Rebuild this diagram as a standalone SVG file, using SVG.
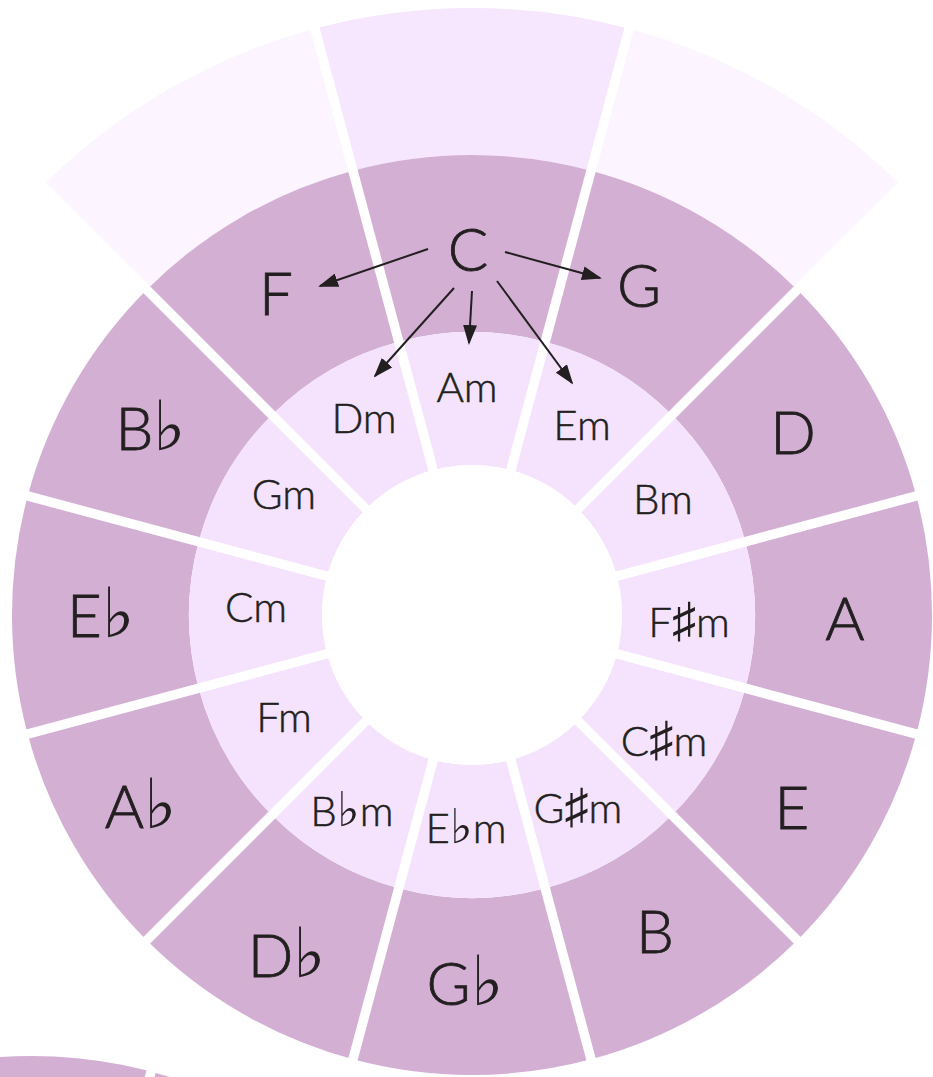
<svg xmlns="http://www.w3.org/2000/svg" width="933" height="1077" viewBox="0 0 933 1077">
<defs>
<style>
.maj{fill:#d2afd3}
.min{fill:#f5e3fd}
.fmid{fill:#f6e6fe}
.flt{fill:#fcf4fe}
.sep{stroke:#ffffff;stroke-width:9.5;stroke-linecap:butt}
.lbl{font-family:Lato,"DejaVu Sans",sans-serif;font-weight:300;fill:#231f20;stroke:#231f20;text-anchor:middle}
.big{font-size:60px;stroke-width:0.8}
.sm{font-size:42px;stroke-width:0.5}
.acc{font-family:"DejaVu Sans",sans-serif;font-size:1.15em;stroke-width:0}
.arr{stroke:#231f20;stroke-width:2;fill:none;marker-end:url(#ah)}
</style>
<marker id="ah" markerUnits="userSpaceOnUse" markerWidth="20" markerHeight="14" refX="18" refY="7" orient="auto" viewBox="0 0 20 14">
<path d="M0,0 L20,7 L0,14 Z" fill="#231f20"/>
</marker>
</defs>
<rect width="933" height="1077" fill="#ffffff"/>

<g id="partial-circle">
<circle cx="32" cy="1516" r="460" class="maj"/>
<line x1="32" y1="1516" x2="153.65" y2="1062.01" class="sep"/>
</g>

<g id="outer-ring">
<path class="flt" d="M42.79,185.79 A607,607 0 0 1 314.90,28.68 L352.94,170.67 A460,460 0 0 0 146.73,289.73 Z"/>
<path class="fmid" d="M314.90,28.68 A607,607 0 0 1 629.10,28.68 L591.06,170.67 A460,460 0 0 0 352.94,170.67 Z"/>
<path class="flt" d="M629.10,28.68 A607,607 0 0 1 901.21,185.79 L797.27,289.73 A460,460 0 0 0 591.06,170.67 Z"/>
</g>

<g id="node-C"><path class="maj" d="M352.94,170.67 A460,460 0 0 1 591.06,170.67 L545.25,341.64 A283,283 0 0 0 398.75,341.64 Z"/><text class="lbl big" x="468" y="271">C</text></g>
<g id="node-G"><path class="maj" d="M591.06,170.67 A460,460 0 0 1 797.27,289.73 L672.11,414.89 A283,283 0 0 0 545.25,341.64 Z"/><text class="lbl big" x="639" y="307">G</text></g>
<g id="node-D"><path class="maj" d="M797.27,289.73 A460,460 0 0 1 916.33,495.94 L745.36,541.75 A283,283 0 0 0 672.11,414.89 Z"/><text class="lbl big" x="793" y="454">D</text></g>
<g id="node-A"><path class="maj" d="M916.33,495.94 A460,460 0 0 1 916.33,734.06 L745.36,688.25 A283,283 0 0 0 745.36,541.75 Z"/><text class="lbl big" x="845" y="640">A</text></g>
<g id="node-E"><path class="maj" d="M916.33,734.06 A460,460 0 0 1 797.27,940.27 L672.11,815.11 A283,283 0 0 0 745.36,688.25 Z"/><text class="lbl big" x="792" y="829">E</text></g>
<g id="node-B"><path class="maj" d="M797.27,940.27 A460,460 0 0 1 591.06,1059.33 L545.25,888.36 A283,283 0 0 0 672.11,815.11 Z"/><text class="lbl big" x="655" y="953">B</text></g>
<g id="node-Gb"><path class="maj" d="M591.06,1059.33 A460,460 0 0 1 352.94,1059.33 L398.75,888.36 A283,283 0 0 0 545.25,888.36 Z"/><text class="lbl big" x="465" y="1005">G<tspan class="acc">♭</tspan></text></g>
<g id="node-Db"><path class="maj" d="M352.94,1059.33 A460,460 0 0 1 146.73,940.27 L271.89,815.11 A283,283 0 0 0 398.75,888.36 Z"/><text class="lbl big" x="287" y="977">D<tspan class="acc">♭</tspan></text></g>
<g id="node-Ab"><path class="maj" d="M146.73,940.27 A460,460 0 0 1 27.67,734.06 L198.64,688.25 A283,283 0 0 0 271.89,815.11 Z"/><text class="lbl big" x="141" y="828">A<tspan class="acc">♭</tspan></text></g>
<g id="node-Eb"><path class="maj" d="M27.67,734.06 A460,460 0 0 1 27.67,495.94 L198.64,541.75 A283,283 0 0 0 198.64,688.25 Z"/><text class="lbl big" x="101" y="637">E<tspan class="acc">♭</tspan></text></g>
<g id="node-Bb"><path class="maj" d="M27.67,495.94 A460,460 0 0 1 146.73,289.73 L271.89,414.89 A283,283 0 0 0 198.64,541.75 Z"/><text class="lbl big" x="151" y="450">B<tspan class="acc">♭</tspan></text></g>
<g id="node-F"><path class="maj" d="M146.73,289.73 A460,460 0 0 1 352.94,170.67 L398.75,341.64 A283,283 0 0 0 271.89,414.89 Z"/><text class="lbl big" x="276" y="315">F</text></g>

<g id="node-Am"><path class="min" d="M398.75,341.64 A283,283 0 0 1 545.25,341.64 L510.82,470.11 A150,150 0 0 0 433.18,470.11 Z"/><text class="lbl sm" x="467" y="402">Am</text></g>
<g id="node-Em"><path class="min" d="M545.25,341.64 A283,283 0 0 1 672.11,414.89 L578.07,508.93 A150,150 0 0 0 510.82,470.11 Z"/><text class="lbl sm" x="582" y="440">Em</text></g>
<g id="node-Bm"><path class="min" d="M672.11,414.89 A283,283 0 0 1 745.36,541.75 L616.89,576.18 A150,150 0 0 0 578.07,508.93 Z"/><text class="lbl sm" x="663" y="514">Bm</text></g>
<g id="node-Fsm"><path class="min" d="M745.36,541.75 A283,283 0 0 1 745.36,688.25 L616.89,653.82 A150,150 0 0 0 616.89,576.18 Z"/><text class="lbl sm" x="689" y="637">F<tspan class="acc">♯</tspan>m</text></g>
<g id="node-Csm"><path class="min" d="M745.36,688.25 A283,283 0 0 1 672.11,815.11 L578.07,720.93 A150,150 0 0 0 616.89,653.82 Z"/><text class="lbl sm" x="664" y="756">C<tspan class="acc">♯</tspan>m</text></g>
<g id="node-Gsm"><path class="min" d="M672.11,815.11 A283,283 0 0 1 545.25,888.36 L510.82,759.89 A150,150 0 0 0 578.07,720.93 Z"/><text class="lbl sm" x="578" y="823">G<tspan class="acc">♯</tspan>m</text></g>
<g id="node-Ebm"><path class="min" d="M545.25,888.36 A283,283 0 0 1 398.75,888.36 L433.18,759.89 A150,150 0 0 0 510.82,759.89 Z"/><text class="lbl sm" x="466" y="843">E<tspan class="acc">♭</tspan>m</text></g>
<g id="node-Bbm"><path class="min" d="M398.75,888.36 A283,283 0 0 1 271.89,815.11 L365.93,720.93 A150,150 0 0 0 433.18,759.89 Z"/><text class="lbl sm" x="352" y="826">B<tspan class="acc">♭</tspan>m</text></g>
<g id="node-Fm"><path class="min" d="M271.89,815.11 A283,283 0 0 1 198.64,688.25 L327.11,653.82 A150,150 0 0 0 365.93,720.93 Z"/><text class="lbl sm" x="284" y="732">Fm</text></g>
<g id="node-Cm"><path class="min" d="M198.64,688.25 A283,283 0 0 1 198.64,541.75 L327.11,576.18 A150,150 0 0 0 327.11,653.82 Z"/><text class="lbl sm" x="256" y="622">Cm</text></g>
<g id="node-Gm"><path class="min" d="M198.64,541.75 A283,283 0 0 1 271.89,414.89 L365.93,508.93 A150,150 0 0 0 327.11,576.18 Z"/><text class="lbl sm" x="284" y="509">Gm</text></g>
<g id="node-Dm"><path class="min" d="M271.89,414.89 A283,283 0 0 1 398.75,341.64 L433.18,470.11 A150,150 0 0 0 365.93,508.93 Z"/><text class="lbl sm" x="364" y="433">Dm</text></g>

<g id="separators">
<line class="sep" x1="472" y1="615" x2="632.47" y2="16.13"/>
<line class="sep" x1="472" y1="615" x2="910.41" y2="176.59"/>
<line class="sep" x1="472" y1="615" x2="925.99" y2="493.35"/>
<line class="sep" x1="472" y1="615" x2="925.99" y2="736.65"/>
<line class="sep" x1="472" y1="615" x2="804.34" y2="947.34"/>
<line class="sep" x1="472" y1="615" x2="593.65" y2="1068.99"/>
<line class="sep" x1="472" y1="615" x2="350.35" y2="1068.99"/>
<line class="sep" x1="472" y1="615" x2="139.66" y2="947.34"/>
<line class="sep" x1="472" y1="615" x2="18.01" y2="736.65"/>
<line class="sep" x1="472" y1="615" x2="18.01" y2="493.35"/>
<line class="sep" x1="472" y1="615" x2="33.59" y2="176.59"/>
<line class="sep" x1="472" y1="615" x2="311.53" y2="16.13"/>
<circle cx="472" cy="615" r="150" fill="#ffffff"/>
</g>

<g id="connectors">
<line class="arr" x1="428" y1="249" x2="320" y2="286"/>
<line class="arr" x1="505" y1="252" x2="600" y2="278"/>
<line class="arr" x1="454" y1="288" x2="375" y2="376"/>
<line class="arr" x1="472" y1="291" x2="469" y2="343"/>
<line class="arr" x1="497" y1="281" x2="572" y2="383"/>
</g>
</svg>
